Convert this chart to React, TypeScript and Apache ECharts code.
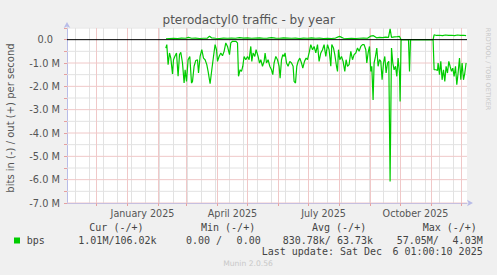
import React, { useEffect, useRef } from "react";
import * as echarts from "echarts";

// x values are days since 2025-01-01
const titleText = "pterodactyl0 traffic - by year";
const yAxisTitle = "bits in (-) / out (+) per second";
const xLabelDays = [15, 105, 196, 288];
const xLabelTexts = ["January 2025", "April 2025", "July 2025", "October 2025"];
const monthStartDays = [-31, 0, 31, 59, 90, 120, 151, 181, 212, 243, 273, 304, 334];
const minorGridDays = [-52, -38, -24, -10, 4, 18, 32, 46, 60, 74, 88, 102, 116, 130, 144, 158, 172, 186, 200, 214, 228, 242, 256, 270, 284, 298, 312, 326];
// y grid (Mbit/s)
const yMajorGrid = [-7, -6, -5, -4, -3, -2, -1];
const yMinorGrid = [-6.5, -5.5, -4.5, -3.5, -2.5, -1.5, -0.5, 0.5];

// "in" traffic (Mbit/s, drawn negative)
const inDays = [
  38.3, 39.3, 40.6, 42, 43.3, 45, 46, 47.3, 49, 50.6, 52, 53.3, 55, 56.6, 57.6, 59, 60.6, 62.3, 64, 65,
  66.6, 68.3, 70, 71, 72.6, 74.3, 76, 77.6, 79.3, 80.6, 82.6, 84.3, 86, 87.6, 89, 90, 91.6, 93.3, 95, 96.6,
  98.3, 100, 102, 103.3, 105, 108.3, 110, 111, 112.6, 114, 115.3, 116.6, 118.3, 120, 121.6, 123.3, 124.3, 125.6, 127.3, 128.6,
  130.6, 132, 133.3, 135, 136.6, 137.6, 139, 140.6, 142.3, 144, 145.3, 146.6, 148.3, 150, 151.6, 152.6, 154, 155.3, 156.6, 157.6,
  159, 160.6, 162.3, 164, 165.6, 166.6, 168, 169.3, 170.6, 172.3, 174, 175.3, 177, 178.6, 180, 181.6, 183.3, 185, 186.6, 188.3,
  190, 191.6, 193.3, 195, 196.6, 198.3, 200, 201.6, 203.3, 204.3, 206, 207.3, 209, 210, 211, 212.3, 214, 215.6, 217.3, 218.6,
  220, 221.6, 223.3, 225, 226.6, 228.3, 230, 231.6, 233.3, 235, 236.6, 238.3, 239.3, 240.6, 242, 243.3, 244.3, 245.6, 246.6, 248,
  249.3, 250.6, 252, 253.3, 254.6, 256, 257.3, 258.6, 260, 261.3, 262.6, 264, 265.3, 266.6, 268, 269.3, 270.6, 272, 272.6, 273.6,
  281, 282, 283, 305.6, 306.6, 308.6, 310, 310.6, 312, 313.3, 314.6, 316, 317.3, 318.6, 320, 321.3, 322.6, 324, 325.3, 326.6,
  328, 329.3, 330.6, 332, 333.3, 334.6, 336, 337.3, 338.6,
];
const inValues = [
  -0.36, -0.21, -1.07, -0.57, -0.79, -1.47, -0.86, -0.72, -0.57, -1.57, -0.64, -0.54, -1.0, -1.86, -1.29, -1.79, -0.86, -0.72, -1.86, -1.79,
  -1.14, -0.89, -0.86, -1.43, -0.72, -0.43, -0.79, -0.86, -1.07, -1.36, -1.89, -1.29, -0.72, -0.21, -0.43, -0.93, -0.72, -0.57, -0.69, -0.5,
  -0.14, -0.29, -0.64, -0.14, -0.07, -0.07, -0.14, -1.57, -1.29, -1.36, -1.14, -0.72, -0.86, -0.72, -0.86, -0.29, -0.93, -0.57, -0.72, -0.43,
  -0.72, -1.0, -0.86, -1.14, -0.93, -0.57, -1.0, -0.86, -1.14, -1.29, -1.5, -1.0, -0.72, -0.86, -1.14, -1.65, -0.86, -0.64, -0.72, -0.57,
  -1.0, -1.14, -0.93, -1.0, -1.14, -1.79, -1.86, -1.14, -0.93, -0.79, -1.0, -1.22, -0.93, -0.79, -0.86, -0.57, -0.21, -0.43, -0.29, -0.57,
  -0.21, -0.93, -0.57, -0.43, -0.21, -0.72, -0.21, -0.43, -1.14, -0.21, -0.36, -0.64, -1.14, -1.36, -0.43, -0.86, -0.72, -0.93, -1.36, -0.86,
  -1.14, -1.07, -0.5, -0.86, -0.64, -0.57, -0.36, -0.5, -0.29, -0.21, -0.21, -0.43, -1.0, -0.57, -0.29, -1.36, -1.14, -2.58, -1.0, -0.72,
  -0.36, -1.14, -0.86, -0.93, -1.72, -1.0, -0.72, -1.43, -1.0, -0.93, -6.08, -0.36, -1.0, -1.29, -1.14, -1.57, -0.79, -1.43, -2.65, 0,
  0, -1.36, 0, 0, -1.29, -1.29, -1.32, -1.0, -1.5, -0.93, -1.72, -1.29, -1.79, -1.14, -1.43, -0.93, -1.14, -1.36, -1.22, -1.57,
  -1.14, -1.93, -1.43, -0.79, -1.72, -1.0, -1.72, -1.43, -1.0,
];

// "out" traffic (Mbit/s)
const outDays = [
  38.5, 42, 46, 50, 54, 58, 61, 64, 68, 72, 76, 80, 82, 84, 88, 92, 96, 100, 104, 108,
  112, 116, 120, 124, 128, 132, 136, 140, 144, 148, 152, 156, 160, 164, 168, 172, 176, 180, 184, 188,
  192, 196, 200, 204, 208, 212, 216, 220, 224, 228, 232, 236, 240, 243, 246, 249, 252, 255, 258, 261,
  262.6, 264, 267, 270, 272, 273.6, 305.6, 306.6, 309, 312, 315, 318, 321, 324, 327, 330, 333, 336, 338.6,
];
const outValues = [
  0.04, 0.05, 0.06, 0.05, 0.07, 0.06, 0.1, 0.06, 0.07, 0.05, 0.06, 0.07, 0.15, 0.08, 0.06, 0.05, 0.07, 0.06, 0.07, 0.06,
  0.09, 0.07, 0.08, 0.06, 0.07, 0.08, 0.06, 0.07, 0.09, 0.07, 0.06, 0.08, 0.07, 0.06, 0.07, 0.05, 0.07, 0.06, 0.08, 0.06,
  0.07, 0.05, 0.06, 0.05, 0.07, 0.14, 0.06, 0.05, 0.06, 0.05, 0.06, 0.07, 0.06, 0.15, 0.17, 0.08, 0.1, 0.09, 0.11, 0.1,
  0.46, 0.1, 0.12, 0.13, 0.14, 0, 0, 0.21, 0.18, 0.19, 0.17, 0.2, 0.18, 0.19, 0.17, 0.2, 0.18, 0.19, 0.17,
];

const legendHeaders = ["Cur (-/+)", "Min (-/+)", "Avg (-/+)", "Max (-/+)"];
const legendName = "bps";
const curText = "1.01M/106.02k";
const minIn = "0.00 /";
const minOut = "0.00";
const avgText = "830.78k/ 63.73k";
const maxIn = "57.05M/";
const maxOut = "4.03M";
const lastUpdateA = "Last update: Sat Dec";
const lastUpdateB = "6 01:00:10 2025";
const muninVersion = "Munin 2.0.56";
const rrdCredit = "RRDTOOL / TOBI OETIKER";

const GREEN = "#00cc00";
const RED_TICK = "#e6a0a0";
const RED_GRID = "#f0c8c8";
const GREY_GRID = "#e2e2e2";
const AXIS = "#b8bce8";
const TXT = "#555";
const SANS = "DejaVu Sans";
const MONO = "DejaVu Sans Mono";

function txt(text: string, x: number, y: number, size: number, family: string, fill: string, align: string, rotation = 0) {
  return {
    type: "text",
    x,
    y,
    rotation,
    silent: true,
    z: 10,
    style: {
      text,
      fill,
      fontSize: size,
      fontFamily: family,
      font: `${size}px "${family}"`,
      align,
      textAlign: align,
      verticalAlign: "middle",
      textVerticalAlign: "middle",
    },
  };
}

export default function App() {
  const ref = useRef<HTMLDivElement>(null);
  useEffect(() => {
    if (!ref.current) return;
    const chart = echarts.init(ref.current, null, { renderer: "svg" });
    const M = 1e6;
    const X_MIN = -60.5;
    const X_MAX = 339.5;
    const Y_MIN = -7 * M;
    const Y_MAX = 0.5 * M;
    const inData = inDays.map((d, i) => [d, inValues[i] * M]);
    const outData = outDays.map((d, i) => [d, outValues[i] * M]);
    const vLines = (days: number[]) => days.flatMap((d) => [[d, Y_MIN], [d, Y_MAX], [d, "-"]]);
    const hLines = (vals: number[]) => vals.flatMap((v) => [[X_MIN, v * M], [X_MAX, v * M], [X_MAX, "-"]]);
    const gridLineSeries = (name: string, color: string, data: any[], z: number) => ({
      name,
      type: "line",
      data,
      z,
      silent: true,
      showSymbol: false,
      symbol: "none",
      connectNulls: false,
      lineStyle: { color, width: 1, type: "solid" },
      emphasis: { disabled: true },
    });
    const legendY = 240;
    const headY = 227.3;
    const option: any = {
      backgroundColor: "#f0f0f0",
      animation: false,
      grid: {
        left: 67, right: 30, top: 28, bottom: 72,
        show: true, backgroundColor: "#ffffff", borderWidth: 0, containLabel: false, outerBoundsMode: "none",
      },
      xAxis: {
        type: "value",
        min: X_MIN,
        max: X_MAX,
        splitLine: { show: false },
        axisLine: { show: true, onZero: false, lineStyle: { color: AXIS, width: 1 }, symbol: ["none", "arrow"], symbolSize: [5, 6], symbolOffset: [0, 6] },
        axisTick: { show: true, customValues: monthStartDays, length: 3, lineStyle: { color: RED_TICK } },
        axisLabel: {
          customValues: xLabelDays,
          formatter: (v: number) => { const i = xLabelDays.indexOf(v); return i >= 0 ? xLabelTexts[i] : ""; },
          color: TXT, fontSize: 9.6, fontFamily: SANS, margin: 5, hideOverlap: false,
        },
      },
      yAxis: {
        type: "value",
        min: Y_MIN,
        max: Y_MAX,
        interval: 0.5 * M,
        axisLine: { show: true, onZero: false, lineStyle: { color: AXIS, width: 1 }, symbol: ["none", "arrow"], symbolSize: [5, 6], symbolOffset: [0, 6] },
        axisTick: { show: true, length: 3, lineStyle: { color: RED_TICK } },
        splitLine: { show: false },
        axisLabel: {
          color: TXT, fontSize: 9.8, fontFamily: SANS, margin: 7,
          formatter: (v: number) => {
            const k = Math.round(v / (0.5 * M));
            if (k % 2 !== 0 || k > 0) return "";
            if (k === 0) return "{z|0.0}";
            return `${(k / 2).toFixed(1)} M`;
          },
          rich: { z: { padding: [0, 7, 0, 0], color: TXT, fontSize: 9.8, fontFamily: SANS } },
        },
      },
      series: [
        gridLineSeries("minorV", GREY_GRID, vLines(minorGridDays), 1),
        gridLineSeries("minorH", GREY_GRID, hLines(yMinorGrid), 1),
        gridLineSeries("majorV", RED_GRID, vLines(monthStartDays), 1),
        gridLineSeries("majorH", RED_GRID, hLines(yMajorGrid), 1),
        { name: "in", type: "line", data: inData, showSymbol: false, symbol: "none", z: 2, lineStyle: { color: GREEN, width: 1.2 } },
        { name: "out", type: "line", data: outData, showSymbol: false, symbol: "none", z: 2, lineStyle: { color: GREEN, width: 1.2 } },
        { name: "zero", type: "line", data: [[X_MIN, 0], [X_MAX, 0]], z: 3, silent: true, showSymbol: false, symbol: "none", lineStyle: { color: "#000", width: 1 } },
      ],
      graphic: [
        txt(titleText, 248.7, 20, 12, SANS, TXT, "center"),
        txt(yAxisTitle, 10, 118, 10, SANS, TXT, "center", Math.PI / 2),
        txt(rrdCredit, 487.5, 69, 6.4, SANS, "#c8c8c8", "center", -Math.PI / 2),
        txt(legendHeaders[0], 89.3, headY, 10, MONO, "#444", "left"),
        txt(legendHeaders[1], 201, headY, 10, MONO, "#444", "left"),
        txt(legendHeaders[2], 312, headY, 10, MONO, "#444", "left"),
        txt(legendHeaders[3], 422.7, headY, 10, MONO, "#444", "left"),
        { type: "rect", shape: { x: 14, y: 237.5, width: 6, height: 6 }, style: { fill: GREEN }, silent: true },
        txt(legendName, 26.7, legendY, 10, MONO, "#444", "left"),
        txt(curText, 78.3, legendY, 10, MONO, "#444", "left"),
        txt(minIn, 186, legendY, 10, MONO, "#444", "left"),
        txt(minOut, 260.7, legendY, 10, MONO, "#444", "right"),
        txt(avgText, 282.7, legendY, 10, MONO, "#444", "left"),
        txt(maxIn, 396.7, legendY, 10, MONO, "#444", "left"),
        txt(maxOut, 482.7, legendY, 10, MONO, "#444", "right"),
        txt(lastUpdateA, 261.7, 251.7, 10, MONO, "#444", "left"),
        txt(lastUpdateB, 482.7, 251.7, 10, MONO, "#444", "right"),
        txt(muninVersion, 248, 263.7, 7.6, SANS, "#c8c8c8", "center"),
      ],
    };
    chart.setOption(option);
    return () => chart.dispose();
  }, []);
  return <div ref={ref} style={{ position: "fixed", left: 0, top: 0, width: 497, height: 275 }} />;
}
